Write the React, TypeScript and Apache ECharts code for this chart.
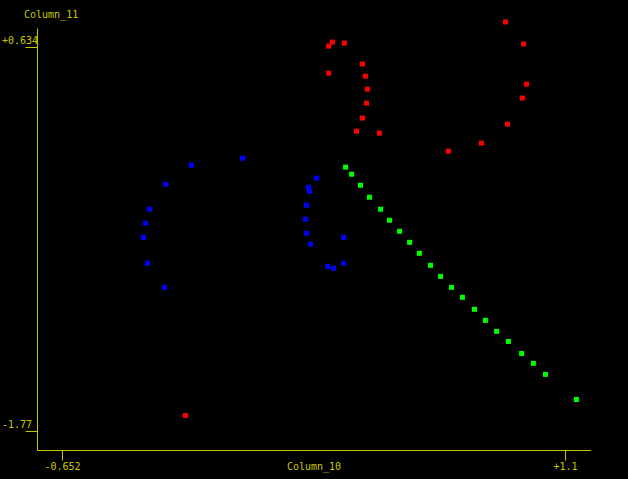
import React, { useEffect, useRef } from "react";
import * as echarts from "echarts";

const xTicks = [-0.652, 1.1];
const yTicks = [-1.77, 0.634];
const xRange = [-0.739, 1.187];
const yRange = [-1.889, 0.747];
const xName = "Column_10";
const yName = "Column_11";

const redPoints: [number, number][] = [
  [0.891, 0.791], [0.954, 0.653], [0.288, 0.665], [0.275, 0.64], [0.33, 0.659],
  [0.393, 0.528], [0.275, 0.471], [0.403, 0.452], [0.41, 0.371], [0.964, 0.402],
  [0.407, 0.283], [0.95, 0.315], [0.393, 0.19], [0.372, 0.108], [0.452, 0.096],
  [0.898, 0.152], [0.807, 0.033], [0.692, -0.017], [-0.224, -1.67],
];
const bluePoints: [number, number][] = [
  [-0.025, -0.061], [-0.203, -0.105], [-0.293, -0.224], [-0.349, -0.38],
  [-0.363, -0.468], [-0.37, -0.556], [-0.356, -0.718], [-0.297, -0.869],
  [0.233, -0.186], [0.205, -0.243], [0.208, -0.268], [0.198, -0.355],
  [0.194, -0.443], [0.198, -0.53], [0.212, -0.599], [0.327, -0.556],
  [0.271, -0.737], [0.292, -0.75], [0.327, -0.718],
];
const greenPoints: [number, number][] = [
  [0.334, -0.117], [0.355, -0.161], [0.386, -0.23], [0.417, -0.305], [0.456, -0.38],
  [0.487, -0.449], [0.522, -0.518], [0.557, -0.587], [0.591, -0.656], [0.63, -0.731],
  [0.665, -0.8], [0.703, -0.869], [0.741, -0.931], [0.783, -1.006], [0.821, -1.075],
  [0.86, -1.144], [0.901, -1.207], [0.947, -1.282], [0.988, -1.344], [1.03, -1.413],
  [1.138, -1.57],
];

const AXIS = "#c8c800";
const FONT = "DejaVu Sans Mono";
const fmt = (v: number) => (v > 0 ? "+" : "") + String(v);

export default function App() {
  const ref = useRef<HTMLDivElement>(null);
  useEffect(() => {
    if (!ref.current) return;
    const chart = echarts.init(ref.current, undefined, { renderer: "svg" });
    const series = [
      { data: redPoints, color: "#ff0000" },
      { data: bluePoints, color: "#0000ff" },
      { data: greenPoints, color: "#00ff00" },
    ].map((s) => ({
      type: "scatter",
      data: s.data,
      symbol: "rect",
      symbolSize: 5,
      clip: false,
      itemStyle: { color: s.color, opacity: 1 },
    }));
    chart.setOption({
      animation: false,
      backgroundColor: "#000000",
      grid: { left: 37.5, right: 37.5, top: 29, bottom: 28.5, outerBoundsMode: "none", containLabel: false },
      xAxis: {
        type: "value",
        min: xRange[0],
        max: xRange[1],
        name: xName,
        nameLocation: "middle",
        nameGap: 16,
        nameMoveOverlap: false,
        nameTextStyle: { color: AXIS, fontFamily: FONT, fontSize: 10, verticalAlign: "middle" },
        axisLine: { onZero: false, lineStyle: { color: AXIS, width: 1 } },
        axisTick: { show: true, length: 10, customValues: xTicks, lineStyle: { color: AXIS } },
        axisLabel: {
          customValues: xTicks,
          formatter: fmt,
          color: AXIS,
          fontFamily: FONT,
          fontSize: 10,
          margin: 11,
          verticalAlign: "top",
        },
        splitLine: { show: false },
      },
      yAxis: {
        type: "value",
        min: yRange[0],
        max: yRange[1],
        axisLine: { show: true, onZero: false, lineStyle: { color: AXIS, width: 1 } },
        axisTick: { show: true, length: 12, customValues: yTicks, lineStyle: { color: AXIS } },
        axisLabel: {
          customValues: yTicks,
          formatter: fmt,
          color: AXIS,
          fontFamily: FONT,
          fontSize: 10,
          margin: 35.5,
          align: "left",
          verticalAlign: "bottom",
          padding: [0, 0, 2, 0],
        },
        splitLine: { show: false },
      },
      graphic: [
        {
          type: "text",
          left: 24,
          top: 9,
          style: { text: yName, fill: AXIS, font: `10px "${FONT}"` },
        },
      ],
      series,
    });
    return () => chart.dispose();
  }, []);
  return (
    <div
      ref={ref}
      style={{ position: "fixed", left: 0, top: 0, width: 628, height: 479, background: "#000" }}
    />
  );
}
